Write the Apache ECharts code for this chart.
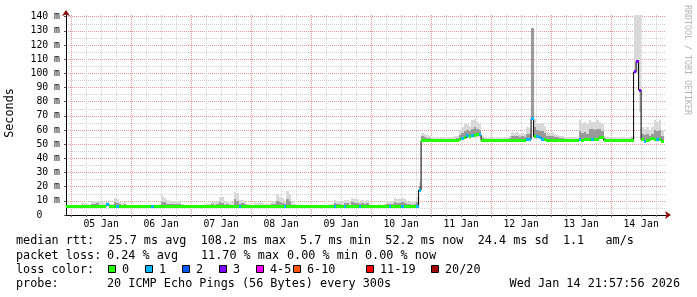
<!DOCTYPE html>
<html><head><meta charset="utf-8">
<script src="https://cdn.jsdelivr.net/npm/echarts@6/dist/echarts.min.js"></script>
<style>html,body{margin:0;padding:0;background:#fff}#c{width:697px;height:297px}</style>
</head><body><div id="c"></div>
<script>
// x unit: hours since Jan 4 22:00 (bucket i covers [i, i+1]); plot spans Jan 4 21:58 .. Jan 14 21:58
const X_MIN = -1/30, X_MAX = 240 - 1/30;
const dayLabels = ['05 Jan','06 Jan','07 Jan','08 Jan','09 Jan','10 Jan','11 Jan','12 Jan','13 Jan','14 Jan'];
const labelHours = [14,38,62,86,110,134,158,182,206,230];          // noon of each day
const midnightHours = [2,26,50,74,98,122,146,170,194,218];          // major grid
const quarterHours = [8,14,20,32,38,44,56,62,68,80,86,92,104,110,116,128,134,140,152,158,164,176,182,188,200,206,212,224,230,236];
const yTicks = [0,10,20,30,40,50,60,70,80,90,100,110,120,130,140];
const yMinor = [5,15,25,35,45,55,65,75,85,95,105,115,125,135];
const Y_MAX = 141.2;

// median rtt (ms), hourly
const med = [
 5.9,5.9,
 5.8,5.8,5.9,6.0,6.1,6.0,6.2,6.3,6.2,6.3,6.2,6.1,6.3,6.2,7.4,6.2,6.1,6.2,6.0,6.3,6.1,5.9,6.0,5.9,
 5.8,5.9,5.8,5.7,5.8,5.8,5.9,5.8,6.0,6.1,5.9,6.0,6.2,6.3,6.1,6.0,6.1,6.2,6.0,5.9,5.8,5.8,5.9,5.8,
 5.9,5.8,5.9,6.0,5.9,5.8,5.9,6.0,6.1,6.0,6.2,6.3,6.1,6.0,6.2,6.0,6.1,6.3,6.2,6.1,6.0,6.1,5.9,5.8,
 5.8,5.9,6.0,6.1,5.9,6.0,6.1,6.0,6.2,6.1,6.3,6.2,6.0,6.1,6.3,6.2,6.0,5.9,5.8,5.9,5.8,5.8,5.9,5.8,
 5.8,5.9,5.8,5.9,6.0,5.9,6.0,6.1,6.0,6.2,6.1,6.0,6.1,6.2,6.0,6.1,6.3,6.1,6.0,6.2,6.1,6.0,5.9,5.9,
 5.8,5.9,5.8,5.9,6.0,5.9,6.0,6.1,6.0,6.2,6.1,6.0,6.2,6.1,6.0,6.2,6.1,6.0,6.1,17.6,52.6,52.5,52.5,52.5,
 52.5,52.5,52.6,52.5,52.5,52.6,52.5,52.5,52.6,52.5,52.7,53.5,54.0,54.5,55.8,55.5,56.0,56.3,56.5,56.5,52.6,52.5,52.5,52.6,
 52.6,52.5,52.6,52.5,52.5,52.6,52.5,52.6,52.8,52.7,52.8,52.9,52.7,52.8,53.2,53.4,68.0,55.3,55.3,55.0,53.5,53.0,52.8,52.7,
 52.6,52.6,52.5,52.6,52.5,52.5,52.6,52.6,52.5,52.6,52.7,53.0,52.9,53.0,53.1,53.3,53.4,53.5,53.6,54.6,54.6,52.8,52.6,52.6,
 52.5,52.6,52.5,52.5,52.6,52.5,52.6,52.5,52.6,101.0,108.2,88.2,53.0,52.2,52.8,53.2,54.0,53.5,53.0,53.2,52.2,null
];
// lost pings class (0:'0',1:'1',2:'2',3:'3',4:'4-5',5:'6-10',6:'11-19',7:'20/20')
const loss = [
 0,0,
 0,0,0,0,0,0,0,0,0,0,0,0,0,0,1,0,0,0,1,0,0,0,0,0,
 0,0,0,0,0,0,0,0,1,0,0,0,0,0,0,0,0,0,0,0,0,0,0,0,
 0,0,0,0,0,0,0,0,0,0,0,0,0,0,0,0,0,0,0,1,0,0,0,0,
 0,0,0,0,0,0,0,0,0,0,0,0,0,1,0,0,0,0,0,0,0,0,0,0,
 0,0,0,0,0,0,0,0,0,1,0,0,0,1,0,0,0,0,0,1,0,0,0,0,
 0,0,0,0,0,0,0,1,0,0,0,0,1,0,0,0,0,0,1,1,0,0,0,0,
 0,0,0,0,0,0,0,0,0,0,0,0,1,0,1,0,1,0,0,1,0,0,0,0,
 0,0,0,0,0,0,0,0,0,0,0,0,0,0,1,1,1,0,1,1,1,0,0,0,
 0,0,0,0,0,0,0,0,0,0,0,1,0,0,0,0,1,0,0,0,0,0,0,0,
 0,0,0,0,0,0,0,0,0,3,3,3,0,1,0,0,0,0,1,0,0,null
];
// smoke: lowest ping, upper inner band, highest ping (ms)
const lo = [
 5.5,5.5,
 5.4,5.5,5.5,5.6,5.6,5.5,5.6,5.7,5.6,5.7,5.6,5.5,5.7,5.6,6.5,5.6,5.5,5.6,5.5,5.7,5.5,5.4,5.5,5.4,
 5.4,5.4,5.4,5.3,5.4,5.4,5.4,5.4,5.5,5.6,5.4,5.5,5.6,5.7,5.6,5.5,5.6,5.6,5.5,5.4,5.4,5.4,5.4,5.4,
 5.4,5.4,5.4,5.5,5.4,5.4,5.4,5.5,5.6,5.5,5.6,5.7,5.6,5.5,5.6,5.5,5.6,5.7,5.6,5.6,5.5,5.6,5.4,5.4,
 5.4,5.4,5.5,5.6,5.4,5.5,5.6,5.5,5.6,5.6,5.7,5.6,5.5,5.6,5.7,5.6,5.5,5.4,5.4,5.4,5.4,5.4,5.4,5.4,
 5.4,5.4,5.4,5.4,5.5,5.4,5.5,5.6,5.5,5.6,5.6,5.5,5.6,5.6,5.5,5.6,5.7,5.6,5.5,5.6,5.6,5.5,5.4,5.4,
 5.4,5.4,5.4,5.4,5.5,5.4,5.5,5.6,5.5,5.6,5.6,5.5,5.6,5.6,5.5,5.6,5.6,5.5,5.6,16.5,52.1,52.0,52.1,52.0,
 52.0,52.0,52.1,52.0,52.0,52.1,52.0,52.0,52.1,52.0,52.2,52.8,53.0,53.2,54.0,53.8,54.2,54.5,54.6,54.6,52.1,52.0,52.0,52.1,
 52.1,52.0,52.1,52.0,52.0,52.1,52.0,52.1,52.2,52.2,52.2,52.3,52.2,52.2,52.5,52.6,67.0,54.0,54.0,53.8,52.8,52.4,52.2,52.2,
 52.1,52.1,52.0,52.1,52.0,52.0,52.1,52.1,52.0,52.1,52.2,52.4,52.3,52.4,52.5,52.6,52.7,52.8,52.9,53.6,53.6,52.3,52.1,52.1,
 52.0,52.1,52.0,52.0,52.1,52.0,52.1,52.0,52.1,100.0,100.0,73.0,52.2,51.5,52.0,52.4,53.0,52.6,52.2,52.4,51.5,null
];
const q = [
 6.2,6.3,
 6.2,6.3,6.4,6.5,7.0,6.9,6.8,6.6,8.0,7.6,8.2,7.4,7.2,7.0,8.2,6.8,7.0,9.0,8.5,7.5,7.2,7.6,6.4,6.3,
 6.2,6.3,6.2,6.1,6.2,6.4,6.3,6.4,6.6,6.6,6.5,6.8,9.5,9.0,8.0,7.5,8.0,7.6,8.0,7.6,6.6,6.3,6.4,6.3,
 6.4,6.3,6.5,6.4,6.3,6.5,6.7,7.0,7.6,7.4,7.5,9.0,8.6,7.4,8.0,7.0,7.4,11.0,10.0,8.0,8.2,7.8,6.8,6.6,
 6.4,7.2,7.0,7.4,7.0,6.6,6.8,6.7,8.0,8.0,10.0,9.0,8.5,7.8,11.0,10.0,7.4,6.8,6.5,6.6,6.4,6.5,6.3,6.2,
 6.3,6.4,6.4,6.6,6.6,6.5,6.8,6.8,7.0,8.5,8.0,8.0,7.4,8.5,8.2,7.4,9.0,8.6,8.4,7.8,8.4,8.0,8.2,7.0,
 6.4,6.4,6.6,6.7,6.6,7.0,8.0,7.6,8.0,9.0,8.5,8.8,9.0,8.4,7.6,8.0,7.4,7.8,9.5,20.5,55.5,54.8,54.5,54.2,
 53.6,53.5,53.6,53.4,53.6,53.5,53.7,53.6,53.8,54.0,54.4,56.5,58.0,59.5,60.0,59.5,61.0,62.0,61.0,60.0,54.5,53.8,53.6,53.6,
 53.6,53.6,53.8,53.5,53.6,53.8,53.7,54.2,56.0,55.5,56.0,55.2,55.6,55.0,57.5,57.0,132.0,62.0,60.0,59.5,59.0,58.0,56.0,55.5,
 55.8,55.0,54.8,54.5,54.2,54.0,53.8,53.7,53.8,54.0,53.8,59.0,58.0,58.5,57.5,61.0,60.5,60.0,61.0,60.5,59.0,54.5,53.8,53.7,
 53.6,53.7,53.5,53.6,53.7,53.5,53.6,53.8,54.5,101.0,108.2,88.2,57.0,56.5,57.0,56.0,57.5,60.0,59.5,60.0,56.0,null
];
const hi = [
 6.5,6.6,
 6.6,6.7,6.8,7.0,8.5,8.4,8.0,7.2,10.0,9.6,10.2,9.0,9.0,8.6,9.5,7.5,8.0,12.0,11.5,9.0,8.8,9.2,7.0,6.8,
 6.6,6.7,6.6,6.5,6.6,7.0,6.8,6.9,7.4,7.2,7.0,7.5,13.5,12.0,10.5,9.0,10.0,9.6,10.2,9.4,7.5,6.8,7.0,6.9,
 7.2,7.0,7.3,7.0,6.8,7.2,7.5,8.0,9.4,9.0,9.2,13.0,12.5,9.0,10.0,8.5,9.0,16.5,15.5,10.6,10.6,10.0,8.0,7.5,
 7.0,9.0,8.6,9.2,8.8,7.5,8.0,7.8,10.0,10.2,14.6,13.0,12.0,9.5,17.0,15.0,9.0,8.0,7.0,7.2,6.9,7.0,6.8,6.7,
 6.8,6.9,7.0,7.2,7.2,7.0,7.4,7.5,8.0,10.6,10.2,10.0,9.0,10.6,10.4,9.0,12.0,11.5,11.0,9.5,10.6,10.0,10.3,8.0,
 7.0,6.9,7.2,7.5,7.2,8.0,10.0,9.6,10.0,12.0,11.0,11.5,12.0,11.0,9.5,10.0,9.0,9.6,13.0,23.5,57.7,57.0,56.5,56.0,
 55.0,54.5,54.8,54.5,55.0,54.6,55.0,54.8,55.2,55.5,56.0,60.0,62.0,64.0,64.0,63.0,67.0,68.0,66.0,64.0,56.0,55.0,54.5,54.6,
 54.5,54.6,54.8,54.5,54.6,55.0,54.8,56.0,58.8,58.0,58.5,57.5,58.0,57.0,62.0,61.5,132.0,68.0,65.0,64.5,65.0,63.0,58.8,58.0,
 58.5,57.0,56.5,56.0,55.5,55.0,55.0,54.8,55.0,55.2,55.0,67.0,65.0,66.0,64.0,67.0,66.0,65.5,67.0,66.0,64.0,56.0,55.0,54.8,
 54.6,54.8,54.5,54.6,54.8,54.5,54.6,55.0,56.0,145,145,145,62.0,61.0,62.0,60.0,62.0,67.0,66.0,67.0,60.0,null
];
const lossColors = ['#26ff00','#00b8ff','#0059ff','#7e00ff','#ff00ff','#ff5500','#ff0000','#a00000'];
const lossLabels = ['0','1','2','3','4-5','6-10','11-19','20/20'];

const rows = [];
for (let i = 0; i < med.length; i++) {
  if (med[i] == null) continue;
  rows.push([i, lo[i], q[i], hi[i], med[i], loss[i]]);
}
const lineData = rows.map(r => [r[0], r[4]]);
const last = rows[rows.length - 1];
lineData.push([last[0] + 1, last[4]]);

function clipR(r, cs) {
  return echarts.graphic.clipRectByRect(r, {x: cs.x, y: cs.y, width: cs.width, height: cs.height});
}
function smokeItem(params, api) {
  const cs = params.coordSys;
  const i = api.value(0), l = api.value(1), qq = api.value(2), h = api.value(3), m = api.value(4);
  const xa = Math.round(api.coord([i, 0])[0]), xb = Math.round(api.coord([i + 1, 0])[0]);
  const mk = (v1, v2, fill) => {
    const ya = api.coord([i, v1])[1], yb = api.coord([i, v2])[1];
    const r = clipR({x: xa, y: Math.round(Math.min(ya, yb)), width: xb - xa, height: Math.round(Math.abs(yb - ya))}, cs);
    return r ? {type: 'rect', shape: r, style: {fill}} : null;
  };
  const ch = [mk(l, h, '#d9d9d9'), mk(m, qq, '#9a9a9a')].filter(Boolean);
  return {type: 'group', children: ch};
}
function bandItem(params, api) {
  const cs = params.coordSys;
  const i = api.value(0), m = api.value(4), c = api.value(5);
  const xa = Math.round(api.coord([i, 0])[0]), xb = Math.round(api.coord([i + 1, 0])[0]);
  const yc = api.coord([i, m])[1];
  const r = clipR({x: xa, y: Math.round(yc - 1.5), width: xb - xa, height: 3}, cs);
  return r ? {type: 'rect', shape: r, style: {fill: lossColors[c]}} : null;
}

const MONO = '"DejaVu Sans Mono", monospace';
const LF = '11.8px ' + MONO;
const g = [];
function T(t, x, y, extra) {
  g.push({type: 'text', x, y, silent: true, style: Object.assign({text: t, fill: '#000', font: LF, verticalAlign: 'middle', align: 'left'}, extra || {})});
}
T('median rtt:  25.7 ms avg  108.2 ms max  5.7 ms min  52.2 ms now  24.4 ms sd  1.1   am/s', 16, 241);
T('packet loss:', 16, 255.5);
T('0.24 % avg', 107, 255.5);
T('11.70 % max', 201, 255.5);
T('0.00 % min', 287, 255.5);
T('0.00 % now', 365, 255.5);
T('loss color:', 16, 269.5);
const boxX = [108, 145, 182, 219, 256, 293, 366, 431];
lossLabels.forEach((lab, k) => {
  g.push({type: 'rect', silent: true, shape: {x: boxX[k] + 0.5, y: 265.5, width: 7, height: 7}, style: {fill: lossColors[k], stroke: '#000', lineWidth: 1}});
  T(lab, boxX[k] + 14, 269.5);
});
T('probe:', 16, 284);
T('20 ICMP Echo Pings (56 Bytes) every 300s', 107, 284);
T('Wed Jan 14 21:57:56 2026', 680, 284, {align: 'right'});
T('Seconds', 10, 113, {align: 'center'});
g[g.length - 1].rotation = Math.PI / 2;
g.push({type: 'text', x: 687, y: 60, rotation: -Math.PI / 2, silent: true,
  style: {text: 'RRDTOOL / TOBI OETIKER', fill: '#b4b4b4', font: '8.3px ' + MONO, align: 'center', verticalAlign: 'middle'}});

const chart = echarts.init(document.getElementById('c'), null, {renderer: 'canvas'});
chart.setOption({
  animation: false,
  backgroundColor: '#fff',
  grid: {left: 66, top: 15, width: 600, height: 200, containLabel: false},
  xAxis: [
    {type: 'value', min: X_MIN, max: X_MAX, position: 'bottom',
     axisLine: {show: true, onZero: false, lineStyle: {color: '#000', width: 1}},
     axisTick: {show: true, length: 2, customValues: midnightHours, lineStyle: {color: '#555'}},
     axisLabel: {show: true, customValues: labelHours, margin: 4, color: '#000', fontFamily: MONO, fontSize: 9.8,
       formatter: v => dayLabels[labelHours.indexOf(Math.round(v))] || ''},
     splitLine: {show: true, lineStyle: {color: '#e79a9a', type: [1, 1], width: 1}}},
    {type: 'value', min: X_MIN, max: X_MAX, position: 'bottom',
     axisLine: {show: true, onZero: false, symbol: ['none', 'arrow'], symbolSize: [6, 6], symbolOffset: [0, 5],
       lineStyle: {color: '#8b0000', width: 0}},
     axisTick: {show: true, length: 2, customValues: quarterHours, lineStyle: {color: '#777'}},
     axisLabel: {show: false},
     splitLine: {show: true, lineStyle: {color: '#d2d2d2', type: [1, 1], width: 1}}}
  ],
  yAxis: [
    {type: 'value', min: 0, max: Y_MAX, position: 'left',
     axisLine: {show: true, onZero: false, lineStyle: {color: '#000', width: 1}},
     axisTick: {show: true, length: 2, customValues: yTicks, lineStyle: {color: '#555'}},
     axisLabel: {show: true, customValues: yTicks, margin: 6, color: '#000', fontFamily: MONO, fontSize: 9.8,
       formatter: v => v === 0 ? '0   ' : (v + ' m')},
     splitLine: {show: true, lineStyle: {color: '#e79a9a', type: [1, 1], width: 1}}},
    {type: 'value', min: 0, max: Y_MAX, position: 'left',
     axisLine: {show: true, onZero: false, symbol: ['none', 'arrow'], symbolSize: [6, 6], symbolOffset: [0, 5],
       lineStyle: {color: '#8b0000', width: 0}},
     axisTick: {show: false, customValues: yMinor},
     axisLabel: {show: false},
     splitLine: {show: true, lineStyle: {color: '#d2d2d2', type: [1, 1], width: 1}}}
  ],
  graphic: g,
  series: [
    {type: 'custom', name: 'smoke', renderItem: smokeItem, data: rows, xAxisIndex: 0, yAxisIndex: 0, z: 2, silent: true},
    {type: 'line', name: 'median', data: lineData, step: 'end', showSymbol: false, xAxisIndex: 0, yAxisIndex: 0,
     lineStyle: {color: '#000', width: 1}, z: 3, silent: true},
    {type: 'custom', name: 'loss', renderItem: bandItem, data: rows, xAxisIndex: 0, yAxisIndex: 0, z: 4, silent: true}
  ]
});
</script></body></html>
